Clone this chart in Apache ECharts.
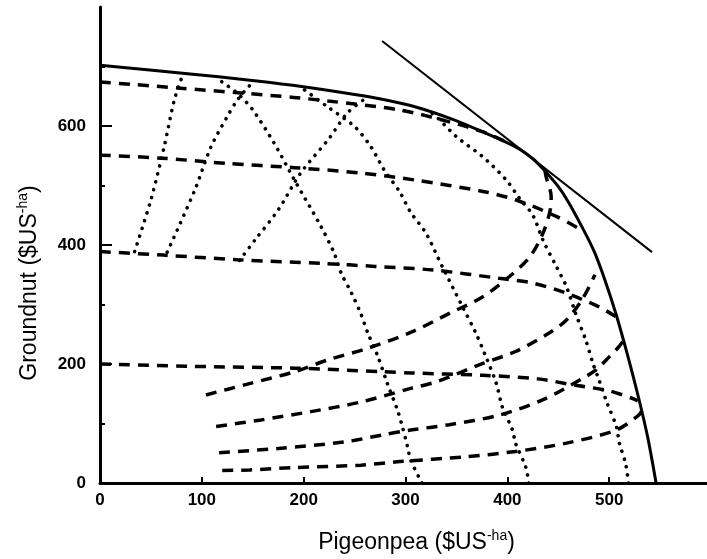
<!DOCTYPE html>
<html>
<head>
<meta charset="utf-8">
<script src="https://cdn.jsdelivr.net/npm/echarts@6/dist/echarts.min.js"></script>
<style>
  html, body { margin: 0; padding: 0; background: #fff; }
  #chart { width: 707px; height: 559px; }
</style>
</head>
<body>
<div id="chart"></div>
<script>
// Axis ticks
const xTickValues = [0, 100, 200, 300, 400, 500];
const yTickValues = [0, 200, 400, 600];

// Production possibility frontier (solid envelope)
const frontier = [[0,702],[86,688],[147,677],[191,668],[250,653],[277,645],[310,632],[345,612],[376,590],[408,565],[425,545],[436,526],[450,498],[460,472],[474,428],[485,390],[496,340],[507,282],[518,215],[529,142],[538,75],[546,0]];

// Price line touching the frontier
const priceLine = [[277,743],[542,388]];

// Dashed curves starting on the groundnut axis
const dashH1 = [[0,674],[76,664],[142,655],[190,648],[224,642],[294,627],[343,607],[376,590],[403,570]];
const dashH2 = [[0,551],[60,546],[125,537],[191,530],[256,521],[310,509],[376,490],[408,476],[448,448],[474,424]];
const dashH3 = [[0,389],[62,383],[137,375],[219,369],[270,364],[327,358],[392,344],[425,336],[458,319],[490,296],[507,279]];
const dashH4 = [[0,200],[93,196],[191,193],[278,187],[305,185],[376,181],[430,175],[464,165],[500,155],[523,142],[528,138]];

// Dashed curves rising from low groundnut values
const dashB1 = [[104,148],[142,165],[191,187],[224,207],[262,226],[305,253],[343,285],[376,313],[402,347],[422,380],[435,420],[442,458],[443,481],[438,515],[437,524]];
const dashB2 = [[114,95],[158,106],[207,120],[256,136],[305,159],[330,170],[376,201],[408,221],[441,252],[458,274],[474,310],[486,350]];
const dashB3 = [[117,51],[175,58],[240,69],[278,81],[305,89],[343,98],[392,114],[435,140],[474,176],[487,190],[500,212],[510,230],[514,240]];
const dashB4 = [[120,21],[147,22],[191,26],[256,30],[294,36],[359,44],[408,53],[458,67],[507,89],[529,114],[532,122]];

// Dotted curves falling from the pigeonpea axis
const dotV1 = [[316,0],[305,39],[302,61],[296,100],[292,123],[282,168],[273,212],[263,252],[256,285],[247,319],[237,352],[230,386],[217,431],[191,509],[171,571],[150,627],[135,655],[119,675]];
const dotV2 = [[421,0],[418,27],[408,67],[405,89],[395,128],[389,168],[379,212],[369,252],[356,296],[336,364],[320,420],[305,455],[294,490],[279,526],[266,565],[250,599],[222,634],[199,663]];
const dotV3 = [[519,0],[516,33],[510,67],[507,95],[498,134],[490,173],[484,201],[477,240],[467,285],[458,330],[448,364],[435,408],[425,450],[412,478],[399,509],[376,548],[350,582],[330,616],[320,628]];

// Dotted curves climbing from the third dashed curve
const dotU1 = [[34,389],[50,476],[63,565],[73,644],[80,680]];
const dotU2 = [[66,388],[93,492],[109,565],[125,616],[135,644],[148,670]];
const dotU3 = [[137,374],[152,408],[175,459],[197,521],[224,577],[243,622],[262,648]];

const dashStyle = { color: '#000', width: 3.5, type: [11, 8] };
const dotStyle = { color: '#000', width: 3.6, type: [0.1, 8], cap: 'round' };

function curve(data, lineStyle, smooth) {
  return {
    type: 'line',
    data: data,
    showSymbol: false,
    smooth: smooth,
    lineStyle: lineStyle,
    silent: true,
    z: 2
  };
}

const series = [
  curve(dashH1, dashStyle, 0.3),
  curve(dashH2, dashStyle, 0.3),
  curve(dashH3, dashStyle, 0.3),
  curve(dashH4, dashStyle, 0.3),
  curve(dashB1, dashStyle, 0.3),
  curve(dashB2, dashStyle, 0.3),
  curve(dashB3, dashStyle, 0.3),
  curve(dashB4, dashStyle, 0.3),
  curve(dotV1, dotStyle, 0.3),
  curve(dotV2, dotStyle, 0.3),
  curve(dotV3, dotStyle, 0.3),
  curve(dotU1, dotStyle, 0.3),
  curve(dotU2, dotStyle, 0.3),
  curve(dotU3, dotStyle, 0.3),
  curve(frontier, { color: '#000', width: 3, type: 'solid' }, 0.3),
  curve(priceLine, { color: '#000', width: 2, type: 'solid' }, false)
];

const tickFont = { color: '#000', fontFamily: 'Liberation Sans', fontWeight: 'bold', fontSize: 17 };
const nameRich = {
  t: { fontFamily: 'Liberation Sans', fontSize: 23, color: '#000', lineHeight: 27 },
  s: { fontFamily: 'Liberation Sans', fontSize: 14, color: '#000', lineHeight: 14, verticalAlign: 'top' }
};

const chart = echarts.init(document.getElementById('chart'), null, { renderer: 'canvas' });
chart.setOption({
  animation: false,
  backgroundColor: '#fff',
  grid: { left: 100, right: 0, top: 7, bottom: 76, containLabel: false, outerBoundsMode: 'none' },
  xAxis: {
    type: 'value',
    min: 0, max: 596, interval: 100,
    axisLine: { lineStyle: { color: '#000', width: 3 } },
    axisTick: { inside: true, length: 6, lineStyle: { color: '#000', width: 2 }, customValues: xTickValues },
    axisLabel: Object.assign({ margin: 9, customValues: xTickValues }, tickFont),
    splitLine: { show: false },
    name: '{t|Pigeonpea ($US}{s|-ha}{t|)}',
    nameLocation: 'middle',
    nameGap: 46,
    nameTextStyle: { rich: nameRich, padding: [0, 0, 0, 26] }
  },
  yAxis: {
    type: 'value',
    min: 0, max: 800, interval: 200,
    axisLine: { lineStyle: { color: '#000', width: 3 } },
    axisTick: { inside: true, length: 12, lineStyle: { color: '#000', width: 2 }, customValues: yTickValues },
    minorTick: { show: true, splitNumber: 2, length: 5, lineStyle: { color: '#000', width: 2 } },
    axisLabel: Object.assign({ margin: 14, customValues: yTickValues }, tickFont),
    splitLine: { show: false },
    name: '{t|Groundnut ($US}{s|-ha}{t|)}',
    nameLocation: 'middle',
    nameRotate: 90,
    nameGap: 57,
    nameTextStyle: { rich: nameRich, padding: [0, 76, 0, 0] }
  },
  series: series
});
</script>
</body>
</html>
